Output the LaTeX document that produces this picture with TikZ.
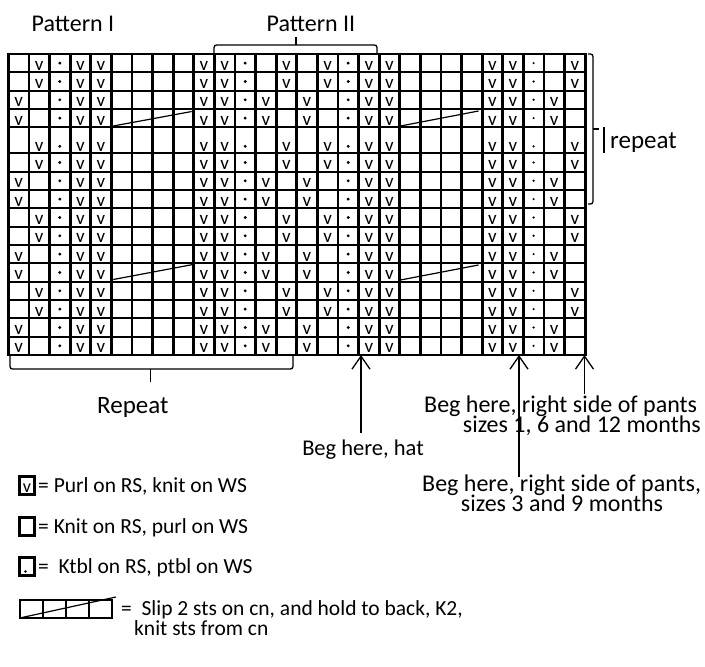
\documentclass[tikz,border=0pt]{standalone}
\usepackage{fontspec}
\setmainfont{Carlito}
\usetikzlibrary{arrows.meta}
\begin{document}
\begin{tikzpicture}[x=1pt,y=-1pt,
  vline/.style={line width=2.8pt},
  hline/.style={line width=2pt, line cap=rect},
  pv/.style={font=\fontsize{19}{19}\selectfont, anchor=base, inner sep=0pt},
  cablel/.style={line width=1.2pt},
  brk/.style={line width=1.3pt, rounded corners=2.5pt},
  lblc/.style={font=\fontsize{24}{26}\selectfont, inner sep=0pt, anchor=base},
  lbl/.style={font=\fontsize{25}{27}\selectfont, inner sep=0pt, anchor=base west},
  lbls/.style={font=\fontsize{24}{26}\selectfont, inner sep=0pt, anchor=base west},
  lgd/.style={font=\fontsize{21.5}{23}\selectfont, inner sep=0pt, anchor=base west},
  arr/.style={line width=1.3pt, -{Straight Barb[length=13pt,width=18pt,line width=1.3pt]}},
  lbox/.style={draw, line width=2.2pt, minimum width=15pt, minimum height=18pt, inner sep=0pt},
]
\useasboundingbox (0,0) rectangle (705,667);

% ---- grid ----
\foreach \yy in {54,72.33,90.67,109,127.33,153.33,171.67,190,208.33,226.67,245,263.33,281.67,300,318.33,336.67,355}
  \draw[hline] (8.3,\yy) -- (585.1,\yy);
\foreach \i in {0,...,28}
  \draw[vline] ({8.3+\i*20.6},53) -- ({8.3+\i*20.6},356);

% ---- cells ----
\foreach \r/\bt/\ty/\dy in {1/72.33/0/9.2,2/90.67/0/9.2,3/109/1/9.2,4/127.33/1/9.2,5/153.33/0/7,6/171.67/0/9.2,7/190/1/9.2,8/208.33/1/9.2,9/226.67/0/9.2,10/245/0/9.2,11/263.33/1/9.2,12/281.67/1/9.2,13/300/0/9.2,14/318.33/0/9.2,15/336.67/1/9.2,16/355/1/9.2}{
  \ifnum\ty=0
    \foreach \c in {2,4,5,10,11,14,16,18,19,24,25,28}
      \node[pv] (v\r-\c) at ({8.3+(\c-0.5)*20.6},{\bt-2.2}) {v};
  \else
    \foreach \c in {1,4,5,10,11,13,15,18,19,24,25,27}
      \node[pv] (v\r-\c) at ({8.3+(\c-0.5)*20.6},{\bt-2.2}) {v};
  \fi
  \foreach \c in {3,12,17}
    \fill ({8.3+(\c-0.5)*20.6},{\bt-\dy}) circle (1.6);
  \fill ({8.3+25.5*20.6},{\bt-\dy}) circle (1.2);
}

% ---- cables ----
\draw[cablel] (113.3,126) -- (191.7,111.5);
\draw[cablel] (400.5,126) -- (478.5,111);
\draw[cablel] (113.3,279.5) -- (193,264.5);
\draw[cablel] (400.5,280) -- (478.5,265);

% ---- top labels and bracket ----
\node[lblc] (p1) at (73,31) {Pattern I};
\node[lblc] (p2) at (311,31) {Pattern II};
\draw[brk] (214,54) -- (214,45) -- (377,45) -- (377,54);
\draw[line width=1.3pt] (296,45) -- (296,37);

% ---- right bracket ----
\draw[brk] (588,54) -- (593,54) -- (593,204) -- (588,204);
\draw[line width=1.3pt] (593,129) -- (599,129);
\draw[line width=2.3pt] (604,127) -- (604,153);
\node[lbl] (rep) at (610,148) {repeat};

% ---- bottom bracket ----
\draw[brk] (10,355) -- (10,369) -- (293,369) -- (293,355);
\draw[line width=1.3pt] (150.6,369) -- (150.6,382);
\node[lbl] (Rep) at (97,413) {Repeat};

% ---- arrows and start labels ----
\coordinate (g1) at (361,355);
\coordinate (g2) at (519,355);
\coordinate (g3) at (584.5,355);
\coordinate (s1) at (361,433);
\coordinate (s2) at (519,477);
\coordinate (s3) at (584.5,394);
\draw[arr] (s1) -- (g1);
\draw[arr] (s2) -- (g2);
\draw[arr] (s3) -- (g3);
\node[font=\fontsize{22.5}{24}\selectfont, inner sep=0pt, anchor=base] (hat) at (363,455) {Beg here, hat};
\node[lbls] (b1a) at (424,412) {Beg here, right side of pants};
\node[font=\fontsize{24}{26}\selectfont, inner sep=0pt, anchor=base east] (b1b) at (701,432) {sizes 1, 6 and 12 months};
\node[lbls] (b2a) at (422,491) {Beg here, right side of pants,};
\node[font=\fontsize{24}{26}\selectfont, inner sep=0pt, anchor=base] (b2b) at (562,511) {sizes 3 and 9 months};

% ---- legend ----
\node[lbox] (k1) at (27,485.5) {};
\node[font=\fontsize{18}{18}\selectfont, anchor=base, inner sep=0pt] (k1v) at (27,492) {v};
\node[lgd] (t1) at (38,492.5) {= Purl on RS, knit on WS};
\node[lbox] (k2) at (27,526.5) {};
\node[lgd] (t2) at (38,533.5) {= Knit on RS, purl on WS};
\node[lbox] (k3) at (27,566.5) {};
\fill (25.5,571.5) circle (1.3);
\node[lgd] (t3) at (38,573.5) {=\ \ Ktbl on RS, ptbl on WS};
\draw[line width=2.2pt] (20,600) rectangle (112,618);
\foreach \xx in {43,66,89}
  \draw[line width=2.2pt] (\xx,600) -- (\xx,618);
\draw[cablel] (22,617.5) -- (116,597);
\node[lgd] (t4) at (121,615.5) {=\ \ Slip 2 sts on cn, and hold to back, K2,};
\node[lgd] (t5) at (134,635) {knit sts from cn};
\end{tikzpicture}
\end{document}
